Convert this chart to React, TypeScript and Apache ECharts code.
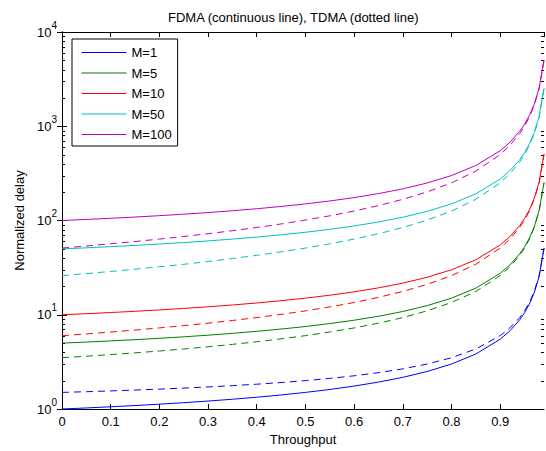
import React, { useEffect, useRef } from "react";
import * as echarts from "echarts";

const X = [0, 0.05, 0.1, 0.15, 0.2, 0.25, 0.3, 0.35, 0.4, 0.45, 0.5, 0.55, 0.6, 0.65, 0.7, 0.75, 0.8, 0.85, 0.9, 0.92, 0.94, 0.95, 0.96, 0.97, 0.98, 0.99];

const FDMA_M1 = [1, 1.026, 1.056, 1.088, 1.125, 1.167, 1.214, 1.269, 1.333, 1.409, 1.5, 1.611, 1.75, 1.929, 2.167, 2.5, 3, 3.833, 5.5, 6.75, 8.833, 10.5, 13, 17.17, 25.5, 50.5];
const TDMA_M1 = [1.5, 1.526, 1.556, 1.588, 1.625, 1.667, 1.714, 1.769, 1.833, 1.909, 2, 2.111, 2.25, 2.429, 2.667, 3, 3.5, 4.333, 6, 7.25, 9.333, 11, 13.5, 17.67, 26, 51];
const FDMA_M5 = [5, 5.13, 5.28, 5.44, 5.625, 5.83, 6.07, 6.35, 6.67, 7.05, 7.5, 8.06, 8.75, 9.64, 10.83, 12.5, 15, 19.17, 27.5, 33.75, 44.17, 52.5, 65, 85.8, 127.5, 252.5];
const TDMA_M5 = [3.5, 3.63, 3.78, 3.94, 4.125, 4.33, 4.57, 4.85, 5.17, 5.55, 6, 6.56, 7.25, 8.14, 9.33, 11, 13.5, 17.67, 26, 32.25, 42.67, 51, 63.5, 84.3, 126, 251];
const FDMA_M10 = [10, 10.26, 10.56, 10.88, 11.25, 11.67, 12.14, 12.69, 13.33, 14.09, 15, 16.11, 17.5, 19.29, 21.67, 25, 30, 38.33, 55, 67.5, 88.33, 105, 130, 171.7, 255, 505];
const TDMA_M10 = [6, 6.26, 6.56, 6.88, 7.25, 7.67, 8.14, 8.69, 9.33, 10.09, 11, 12.11, 13.5, 15.29, 17.67, 21, 26, 34.33, 51, 63.5, 84.33, 101, 126, 167.7, 251, 501];
const FDMA_M50 = [50, 51.3, 52.8, 54.4, 56.25, 58.3, 60.7, 63.5, 66.7, 70.5, 75, 80.6, 87.5, 96.4, 108.3, 125, 150, 191.7, 275, 337.5, 441.7, 525, 650, 858.3, 1275, 2525];
const TDMA_M50 = [26, 27.3, 28.8, 30.4, 32.25, 34.3, 36.7, 39.5, 42.7, 46.5, 51, 56.6, 63.5, 72.4, 84.3, 101, 126, 167.7, 251, 313.5, 417.7, 501, 626, 834.3, 1251, 2501];
const FDMA_M100 = [100, 102.6, 105.6, 108.8, 112.5, 116.7, 121.4, 126.9, 133.3, 140.9, 150, 161.1, 175, 192.9, 216.7, 250, 300, 383.3, 550, 675, 883.3, 1050, 1300, 1716.7, 2550, 5050];
const TDMA_M100 = [51, 53.6, 56.6, 59.8, 63.5, 67.7, 72.4, 77.9, 84.3, 91.9, 101, 112.1, 126, 143.9, 167.7, 201, 251, 334.3, 501, 626, 834.3, 1001, 1251, 1667.7, 2501, 5001];

const NAMES = ["M=1", "M=5", "M=10", "M=50", "M=100"];
const COLORS = ["#0000ff", "#008000", "#ff0000", "#00bfbf", "#bf00bf"];
const FDMA = [FDMA_M1, FDMA_M5, FDMA_M10, FDMA_M50, FDMA_M100];
const TDMA = [TDMA_M1, TDMA_M5, TDMA_M10, TDMA_M50, TDMA_M100];
const MINOR_Y = [2, 3, 4, 5, 6, 7, 8, 9, 20, 30, 40, 50, 60, 70, 80, 90, 200, 300, 400, 500, 600, 700, 800, 900, 2000, 3000, 4000, 5000, 6000, 7000, 8000, 9000];

const FONT = "'Liberation Sans', Arial, Helvetica, sans-serif";

export default function App() {
  const ref = useRef<HTMLDivElement>(null);
  useEffect(() => {
    const chart = echarts.init(ref.current!, null, { renderer: "svg" });
    const pairs = (ys: number[]) => X.map((x, i) => [x, ys[i]]);
    const series: any[] = [];
    FDMA.forEach((ys, i) => {
      series.push({
        name: NAMES[i],
        type: "line",
        data: pairs(ys),
        symbol: "none",
        lineStyle: { color: COLORS[i], width: 1 },
        itemStyle: { color: COLORS[i] },
      });
    });
    TDMA.forEach((ys, i) => {
      series.push({
        name: NAMES[i] + " TDMA",
        type: "line",
        data: pairs(ys),
        symbol: "none",
        lineStyle: { color: COLORS[i], width: 1, type: [7, 5] },
        itemStyle: { color: COLORS[i] },
      });
    });
    series.push({
      type: "custom",
      name: "minor",
      silent: true,
      data: MINOR_Y.map((v) => [0, v]),
      encode: { x: 0, y: 1 },
      renderItem: (params: any, api: any) => {
        const y = Math.round(api.coord([0, api.value(1)])[1]) + 0.5;
        const cs = params.coordSys;
        return {
          type: "group",
          children: [
            { type: "line", shape: { x1: cs.x, y1: y, x2: cs.x + 3, y2: y }, style: { stroke: "#000", lineWidth: 1 } },
            { type: "line", shape: { x1: cs.x + cs.width - 3, y1: y, x2: cs.x + cs.width, y2: y }, style: { stroke: "#000", lineWidth: 1 } },
          ],
        };
      },
    });
    const yLabel = {
      margin: 5,
      formatter: (v: number) => `{b|10}{s|${Math.round(Math.log10(v))}}`,
      rich: {
        b: { fontSize: 13, fontFamily: FONT, color: "#000", verticalAlign: "middle", lineHeight: 15 },
        s: { fontSize: 10, fontFamily: FONT, color: "#000", lineHeight: 10, padding: [0, 0, 14, 0] },
      },
    };
    chart.setOption({
      animation: false,
      backgroundColor: "#fff",
      title: {
        text: "FDMA (continuous line), TDMA (dotted line)",
        left: 163,
        top: 6,
        textStyle: { fontSize: 13, fontWeight: "normal", color: "#000", fontFamily: FONT },
      },
      legend: {
        data: NAMES,
        orient: "vertical",
        left: 72,
        top: 39,
        itemWidth: 45,
        itemHeight: 14,
        itemGap: 7.5,
        padding: [7, 6, 5, 9],
        borderColor: "#000",
        borderWidth: 1,
        backgroundColor: "#fff",
        itemStyle: { opacity: 0 },
        lineStyle: { width: 1 },
        textStyle: { fontSize: 13, color: "#000", fontFamily: FONT },
      },
      grid: { left: 62, right: 2, top: 32, bottom: 41 },
      xAxis: [
        {
          type: "value",
          min: 0,
          max: 0.99,
          interval: 0.1,
          name: "Throughput",
          nameLocation: "middle",
          nameGap: 24,
          nameTextStyle: { fontSize: 13, color: "#000", fontFamily: FONT },
          axisLine: { show: true, lineStyle: { color: "#000", width: 1 } },
          axisTick: { show: true, inside: true, length: 5, lineStyle: { color: "#000" } },
          axisLabel: {
            margin: 6,
            fontSize: 13,
            color: "#000",
            fontFamily: FONT,
            showMaxLabel: false,
            formatter: (v: number) => String(Math.round(v * 10) / 10),
          },
          splitLine: { show: false },
        },
        {
          type: "value",
          position: "top",
          min: 0,
          max: 0.99,
          interval: 0.1,
          axisLine: { show: true, lineStyle: { color: "#000", width: 1 } },
          axisTick: { show: true, inside: true, length: 5, lineStyle: { color: "#000" } },
          axisLabel: { show: false },
          splitLine: { show: false },
        },
      ],
      yAxis: [
        {
          type: "log",
          logBase: 10,
          min: 1,
          max: 10000,
          name: "Normalized delay",
          nameLocation: "middle",
          nameGap: 36,
          nameTextStyle: { fontSize: 13, color: "#000", fontFamily: FONT },
          axisLine: { show: true, lineStyle: { color: "#000", width: 1 } },
          axisTick: { show: true, inside: true, length: 5, lineStyle: { color: "#000" } },
          axisLabel: yLabel,
          splitLine: { show: false },
        },
        {
          type: "log",
          logBase: 10,
          min: 1,
          max: 10000,
          position: "right",
          axisLine: { show: true, lineStyle: { color: "#000", width: 1 } },
          axisTick: { show: true, inside: true, length: 5, lineStyle: { color: "#000" } },
          axisLabel: { show: false },
          splitLine: { show: false },
        },
      ],
      series,
    });
    return () => chart.dispose();
  }, []);
  return (
    <div
      ref={ref}
      style={{ position: "absolute", left: 0, top: 0, width: 546, height: 451 }}
    />
  );
}
